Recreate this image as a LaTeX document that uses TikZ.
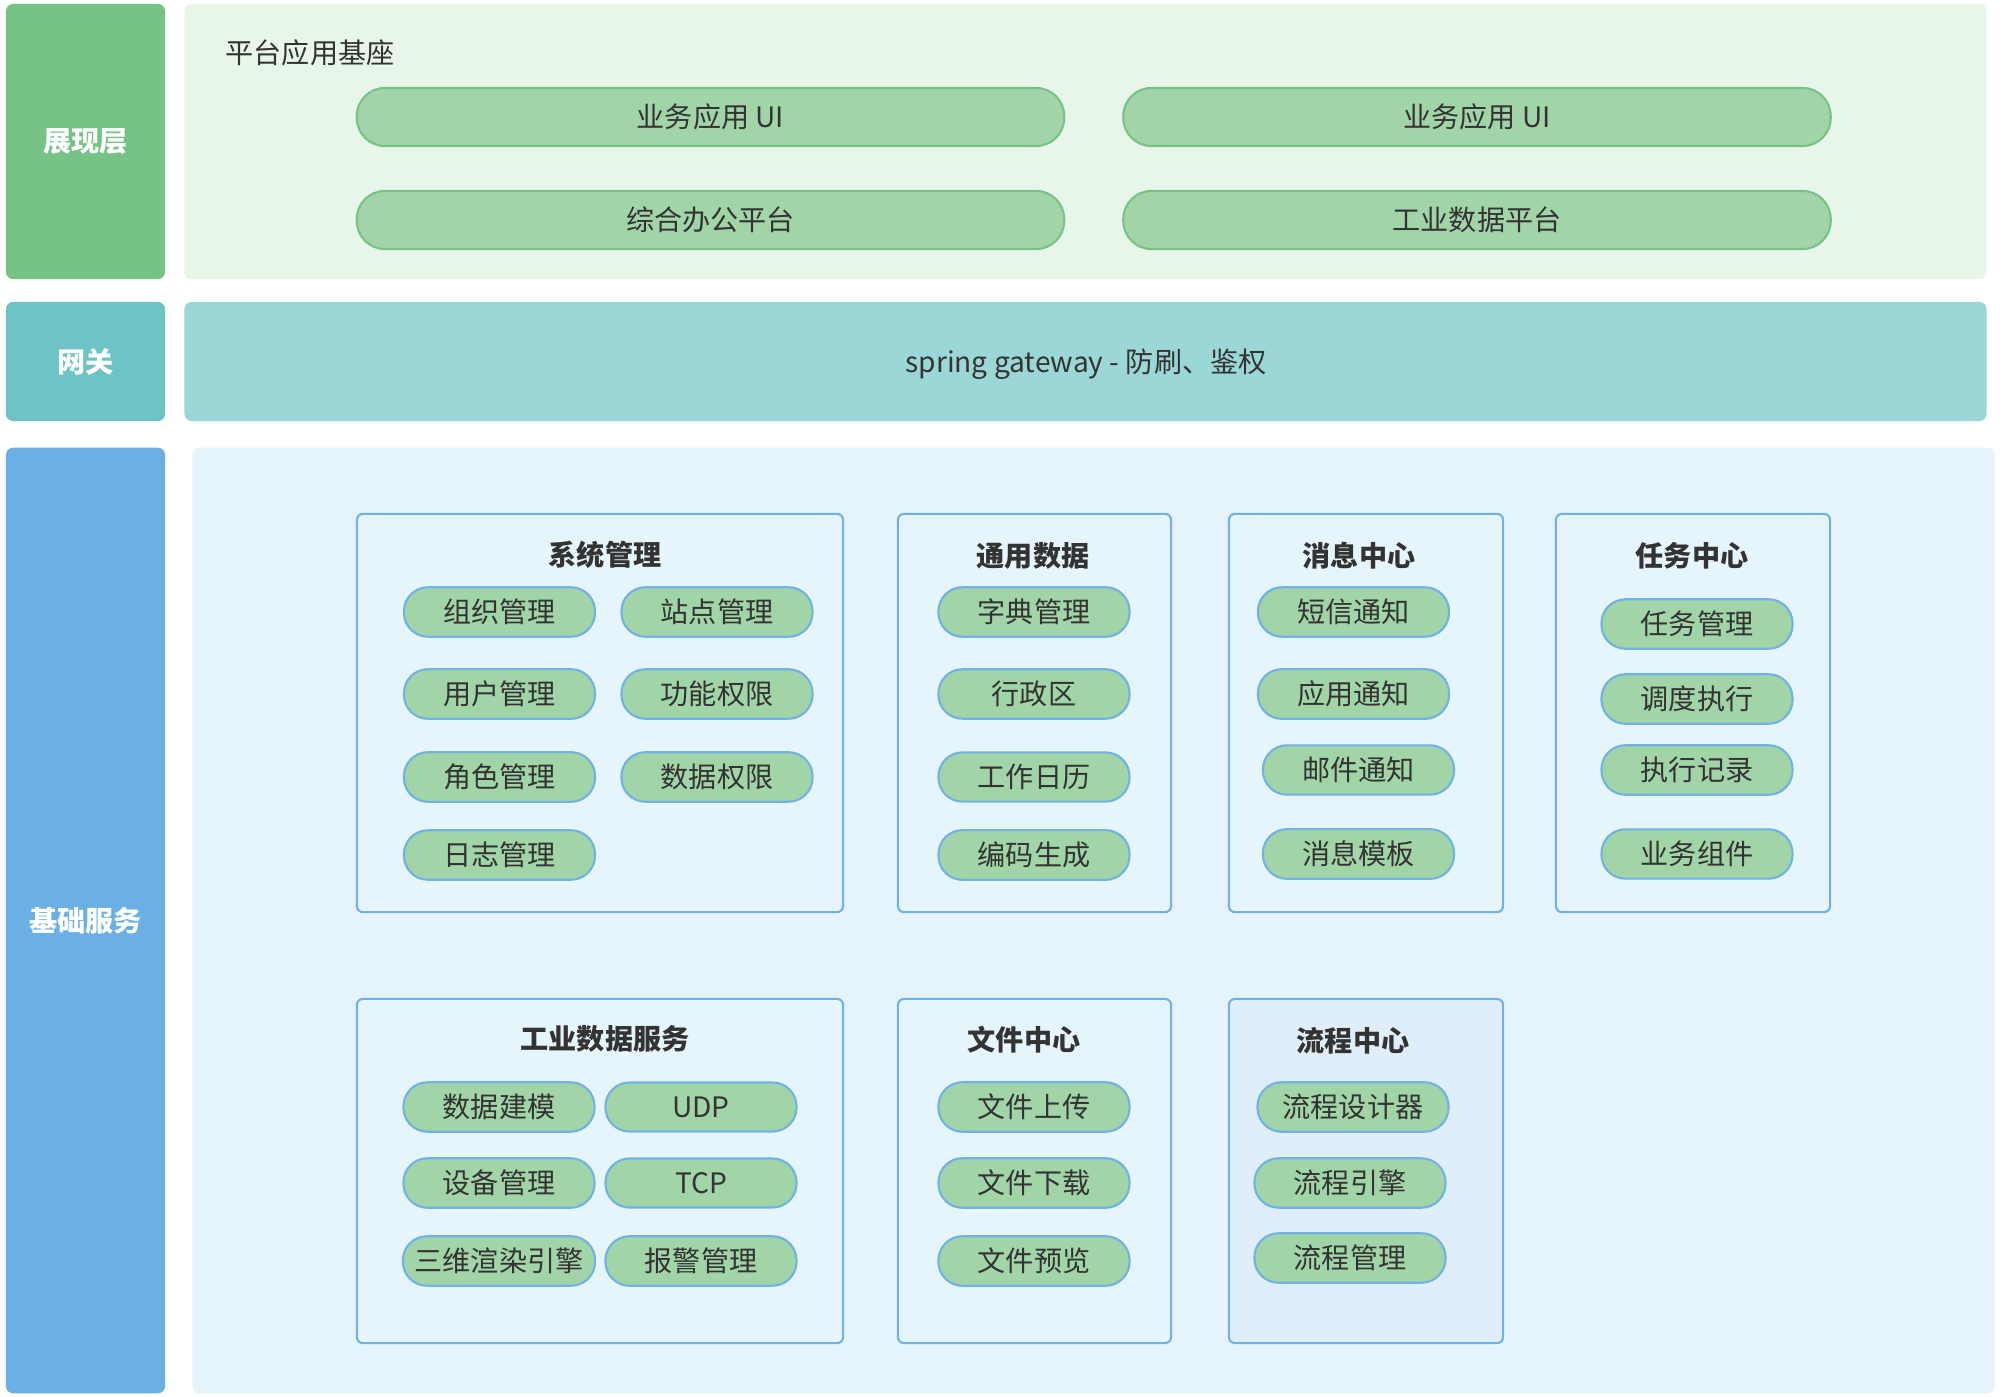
\documentclass[tikz,border=0pt]{standalone}
\usepackage{fontspec}
\setmainfont{Noto Sans CJK SC}
\usepackage{tikz}
\usetikzlibrary{positioning}
\definecolor{showgreen}{RGB}{119,195,135}
\definecolor{showbg}{RGB}{232,246,233}
\definecolor{pillgreen}{RGB}{161,213,168}
\definecolor{gwteal}{RGB}{110,195,196}
\definecolor{gwbg}{RGB}{155,215,214}
\definecolor{baseblue}{RGB}{106,176,228}
\definecolor{basebg}{RGB}{229,243,251}
\definecolor{grpblue}{RGB}{112,178,230}
\definecolor{grpbg}{RGB}{230,244,252}
\definecolor{flowbg}{RGB}{223,238,250}
\definecolor{txtdark}{RGB}{51,51,51}
\tikzset{
  lyrlbl/.style={rectangle,rounded corners=0.07cm,fill=#1,minimum width=1.59cm,
    text=white,font=\fontsize{8}{10}\selectfont\bfseries},
  lyrpanel/.style={rectangle,rounded corners=0.07cm,fill=#1,minimum width=18.01cm},
  apppill/.style={rectangle,rounded corners=0.28cm,draw=showgreen,line width=0.6pt,
    fill=pillgreen,minimum width=7.07cm,minimum height=0.58cm,text=txtdark},
  svcpill/.style={rectangle,rounded corners=0.24cm,draw=grpblue,line width=0.6pt,
    fill=pillgreen,minimum width=1.91cm,minimum height=0.49cm,text=txtdark},
  grpbox/.style={rectangle,rounded corners=0.06cm,draw=grpblue,line width=0.6pt,
    fill=#1},
  grptitle/.style={text=txtdark,font=\fontsize{8}{10}\selectfont\bfseries},
}

\begin{document}
\begin{tikzpicture}[x=0.01cm,y=-0.01cm,font=\fontsize{8}{10}\selectfont]

\fill[white] (0,0) rectangle (2005,1397);
\useasboundingbox (0,0) rectangle (2005,1397);

% ── Layer labels (left column) ───────────────────────────────────────────
\node[lyrlbl=showgreen, minimum height=2.75cm] (lshow) at (85.5,141.5) {展现层};
\node[lyrlbl=gwteal,    minimum height=1.19cm] (lgate) at (85.5,361.5) {网关};
\node[lyrlbl=baseblue,  minimum height=9.45cm] (lbase) at (85.5,920.5) {基础服务};

% ── Layer panels ──────────────────────────────────────────────────────────
\node[lyrpanel=showbg, minimum height=2.75cm] (pshow) at (1085.5,141.5) {};
\node[lyrpanel=gwbg,   minimum height=1.19cm] (pgate) at (1085.5,361.5) {};
\node[text=txtdark] (gatetxt) at (1086,364) {spring gateway - 防刷、鉴权};
\node[lyrpanel=basebg, minimum height=9.45cm] (pbase) at (1093.5,920.5) {};

% ── Presentation layer ───────────────────────────────────────────────────
\node[anchor=west, text=txtdark, inner sep=0pt] (apptitle) at (225,53) {平台应用基座};
\foreach \n/\x/\y/\t in {app1/710.5/117/业务应用 UI, app2/1477/117/业务应用 UI,
                         app3/710.5/220/综合办公平台, app4/1477/220/工业数据平台}
  \node[apppill] (\n) at (\x,\y) {\t};

% ── Service group boxes ───────────────────────────────────────────────────
\node[grpbox=grpbg,  minimum width=4.86cm, minimum height=3.98cm] (gsys)  at (600,713) {};
\node[grpbox=grpbg,  minimum width=2.73cm, minimum height=3.98cm] (ggen)  at (1034.5,713) {};
\node[grpbox=grpbg,  minimum width=2.74cm, minimum height=3.98cm] (gmsg)  at (1366,713) {};
\node[grpbox=grpbg,  minimum width=2.74cm, minimum height=3.98cm] (gtask) at (1693,713) {};
\node[grpbox=grpbg,  minimum width=4.86cm, minimum height=3.44cm] (gind)  at (600,1171) {};
\node[grpbox=grpbg,  minimum width=2.73cm, minimum height=3.44cm] (gfile) at (1034.5,1171) {};
\node[grpbox=flowbg, minimum width=2.74cm, minimum height=3.44cm] (gflow) at (1366,1171) {};

% ── Group titles ──────────────────────────────────────────────────────────
\foreach \n/\x/\y/\t in {tsys/605/555/系统管理, tgen/1033/556/通用数据,
                         tmsg/1359/556/消息中心, ttask/1692/556/任务中心,
                         tind/605/1039/工业数据服务, tfile/1024/1040/文件中心,
                         tflow/1353/1041/流程中心}
  \node[grptitle] (\n) at (\x,\y) {\t};

% ── Service pills ─────────────────────────────────────────────────────────
\foreach \n/\x/\y/\t in {sys1/499.5/612/组织管理, sys2/717/612/站点管理,
                         sys3/499.5/694/用户管理, sys4/717/694/功能权限,
                         sys5/499.5/777/角色管理, sys6/717/777/数据权限,
                         sys7/499.5/855/日志管理,
                         gen1/1034/612/字典管理, gen2/1034/694/行政区,
                         gen3/1034/777/工作日历, gen4/1034/855/编码生成,
                         msg1/1353.5/612/短信通知, msg2/1353.5/694/应用通知,
                         msg3/1358.5/770/邮件通知, msg4/1358.5/854/消息模板,
                         task1/1697/624/任务管理, task2/1697/699/调度执行,
                         task3/1697/770/执行记录, task4/1697/854/业务组件,
                         ind1/499/1107/数据建模, ind2/701/1107/UDP,
                         ind3/499/1183/设备管理, ind4/701/1183/TCP,
                         ind5/499/1261/三维渲染引擎, ind6/701/1261/报警管理,
                         file1/1034/1107/文件上传, file2/1034/1183/文件下载,
                         file3/1034/1261/文件预览,
                         flow1/1353/1107/流程设计器, flow2/1350/1183/流程引擎,
                         flow3/1350/1258/流程管理}
  \node[svcpill] (\n) at (\x,\y) {\t};

\end{tikzpicture}
\end{document}
